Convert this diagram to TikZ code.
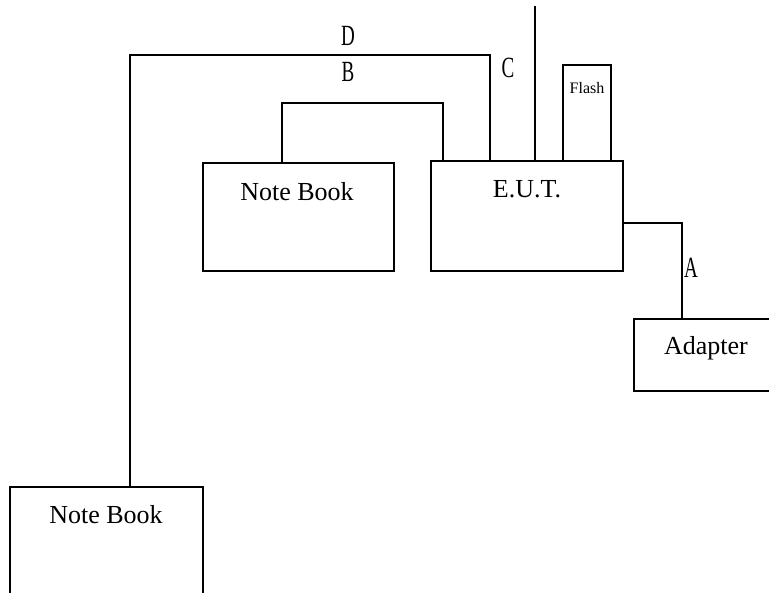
\documentclass[tikz,border=0pt]{standalone}
\usepackage{fontspec}
\setmainfont{Liberation Serif}
\newfontfamily\lblfont[FakeStretch=0.65]{Liberation Serif}
\begin{document}
\begin{tikzpicture}[x=0.75pt,y=-0.75pt,
  box/.style={draw,line width=1.5pt,rectangle,inner sep=0pt},
  boxtext/.style={inner sep=0pt,font=\fontsize{19.5}{22}\selectfont},
  smalltext/.style={inner sep=0pt,font=\fontsize{12}{14}\selectfont},
  lbl/.style={inner sep=0pt,font=\lblfont\fontsize{22}{24}\selectfont},
  wire/.style={line width=1.5pt}]
\useasboundingbox (0,0) rectangle (769,593);
\clip (0,0) rectangle (769,593);
% boxes
\node[box,minimum width=143.25pt,minimum height=81pt] (nb1) at (298.5,217) {};
\node[box,minimum width=144pt,minimum height=82.5pt] (eut) at (527,216) {};
\node[box,minimum width=36pt,minimum height=72pt] (flash) at (587,113) {};
\node[box,minimum width=124.5pt,minimum height=54pt] (adapter) at (717,355) {};
\node[box,minimum width=144.75pt,minimum height=99.75pt] (nb2) at (106.5,553.5) {};
% texts
\node[boxtext] (nb1t) at (297,192) {Note Book};
\node[boxtext] (eutt) at (527,189) {E.U.T.};
\node[smalltext] (flasht) at (587,88) {Flash};
\node[boxtext] (adaptert) at (706,348) {Adapter};
\node[boxtext] (nb2t) at (106,515) {Note Book};
% connectors
\coordinate (dc) at (130,55);
\coordinate (dr) at (490,55);
\draw[wire] (nb2.north -| dc) -- (dc) -- (dr) -- (eut.north -| dr);
\coordinate (bl) at (282,103);
\coordinate (br) at (443,103);
\draw[wire] (nb1.north -| bl) -- (bl) -- (br) -- (eut.north -| br);
\coordinate (ant) at (535,6);
\draw[wire] (eut.north -| ant) -- (ant);
\coordinate (ar) at (682,223);
\draw[wire] (eut.east |- ar) -- (ar) -- (adapter.north -| ar);
% labels
\node[lbl] (ld) at (348,36) {D};
\node[lbl] (lb) at (348,72) {B};
\node[lbl] (lc) at (508,68) {C};
\node[lbl] (la) at (691,268) {A};
\end{tikzpicture}
\end{document}
